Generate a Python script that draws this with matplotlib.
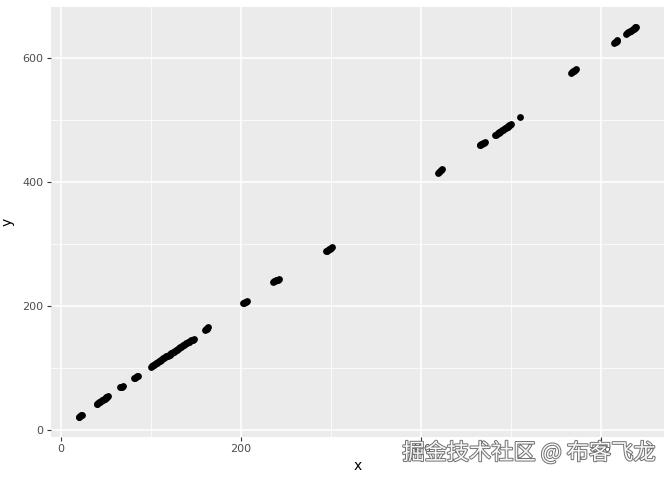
import matplotlib
matplotlib.use("Agg")
import matplotlib.pyplot as plt
import matplotlib.patheffects as pe

x = [20, 21, 22, 23, 24,
     40, 41, 42, 43, 44, 45, 46, 47, 48, 49, 50, 51, 52, 53,
     66, 67, 68, 69,
     82, 83, 84, 85, 86,
     100, 101, 102, 103, 104, 105, 106, 107, 108, 109, 110, 111, 112, 113, 114,
     115, 116, 117, 118, 119, 120, 121, 122, 123, 124, 125, 126, 127, 128, 129,
     130, 131, 132, 133, 134, 135, 136, 137, 138, 139, 140, 141, 142, 143, 144,
     145, 146, 147, 148,
     160, 161, 162, 163, 164,
     203, 204, 205, 206, 207,
     236, 237, 238, 239, 240, 241, 242,
     295, 296, 297, 298, 299, 300, 301,
     419, 420, 421, 422, 423,
     465, 466, 467, 468, 469, 470, 471,
     482, 483, 484, 485, 486, 487, 488, 489, 490, 491, 492, 493, 494, 495, 496,
     497, 498, 499, 500,
     510,
     567, 568, 569, 570, 571, 572,
     614, 615, 616, 617, 618,
     628, 629, 630, 631, 632, 633, 634, 635, 636, 637, 638, 639]
y = [21, 22, 23, 24, 25,
     42, 43, 44, 45, 46, 47, 48, 49, 50, 51, 52, 53, 54, 55,
     69, 70, 70, 71,
     85, 85, 86, 87, 88,
     102, 103, 104, 105, 106, 107, 108, 109, 110, 111, 112, 113, 114, 115, 116,
     117, 118, 119, 119, 120, 121, 122, 123, 124, 125, 126, 127, 128, 129, 130,
     131, 132, 133, 134, 135, 136, 137, 138, 139, 140, 141, 142, 142, 143, 144,
     145, 146, 146, 147,
     162, 163, 164, 165, 166,
     205, 206, 207, 207, 208,
     239, 240, 241, 242, 243, 243, 244,
     289, 290, 291, 292, 293, 294, 295,
     415, 417, 418, 420, 421,
     460, 461, 462, 462, 463, 464, 465,
     476, 477, 478, 479, 480, 481, 482, 483, 484, 485, 486, 487, 488, 489, 490,
     491, 492, 493, 494,
     505,
     577, 578, 579, 580, 581, 583,
     625, 626, 627, 628, 629,
     640, 641, 642, 643, 644, 645, 646, 647, 648, 649, 650, 651]

major_ticks = [0, 200, 400, 600]
minor_ticks = [100, 300, 500]

fig = plt.figure(figsize=(6.72, 4.8), dpi=100)
ax = fig.add_axes([0.0754, 0.0902, 0.9885 - 0.0754, 0.9848 - 0.0902])
ax.set_facecolor("#EBEBEB")
for s in ax.spines.values():
    s.set_visible(False)

ax.scatter(x, y, s=24, color="black", linewidths=0, zorder=3)

xr = max(x) - min(x)
yr = max(y) - min(y)
ax.set_xlim(min(x) - 0.05 * xr, max(x) + 0.05 * xr)
ax.set_ylim(min(y) - 0.05 * yr, max(y) + 0.05 * yr)

ax.set_xticks(major_ticks)
ax.set_yticks(major_ticks)
ax.set_xticks(minor_ticks, minor=True)
ax.set_yticks(minor_ticks, minor=True)
ax.grid(which="major", color="white", linewidth=1.1, zorder=0)
ax.grid(which="minor", color="white", linewidth=0.55, zorder=0)
ax.set_axisbelow(True)
ax.tick_params(which="major", length=3, width=0.8, color="#333333",
               labelsize=8, labelcolor="#4D4D4D", pad=2)
ax.tick_params(which="minor", length=0)

ax.set_xlabel("x", fontsize=10, color="black", labelpad=4)
ax.set_ylabel("y", fontsize=10, color="black", labelpad=6)

fig.text(0.976, 0.057, "掘金技术社区 @ 布客飞龙", ha="right", va="center",
         fontsize=16, color="#F8F8F8",
         family=["Noto Sans CJK SC", "DejaVu Sans"],
         path_effects=[pe.withStroke(linewidth=1.4, foreground="#707070")],
         zorder=10)

fig.savefig("out.png", dpi=100)
